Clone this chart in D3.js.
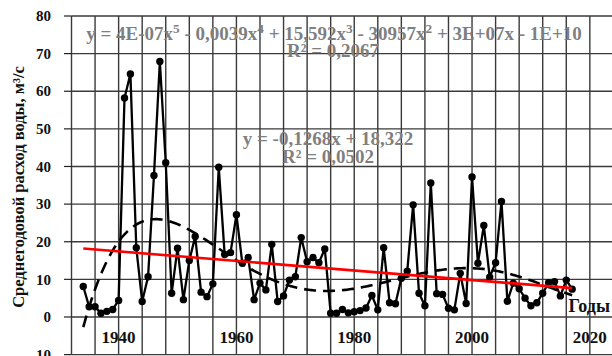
<!DOCTYPE html>
<html><head><meta charset="utf-8">
<script src="https://cdnjs.cloudflare.com/ajax/libs/d3/7.8.5/d3.min.js"></script>
<style>html,body{margin:0;padding:0;background:#fff;}svg{display:block;}</style>
</head><body>
<svg id="c" width="612" height="356"></svg>
<script>
const startYear = 1934;
const flow = [8.1,2.7,2.7,1.0,1.5,2.0,4.4,58.2,64.6,18.4,
  4.1,10.7,37.6,67.9,41.0,6.3,18.3,4.6,15.0,21.4,
  6.6,5.4,8.8,39.8,16.6,17.1,27.2,14.3,15.8,4.6,
  9.0,7.2,19.3,4.1,5.6,9.8,10.7,21.1,14.7,15.8,
  14.4,18.1,1.0,1.0,2.0,1.1,1.4,1.7,2.4,5.7,
  1.9,18.4,3.8,3.5,10.3,12.2,29.8,6.3,3.0,35.6,
  6.2,6.0,2.3,1.9,11.6,3.6,37.2,14.3,24.3,10.6,
  14.4,30.7,4.2,9.0,7.5,5.0,3.0,3.8,6.3,9.1,
  9.4,5.6,9.8,7.4];
const years = flow.map((v,i)=>startYear+i);
const xTicks = [1940,1960,1980,2000,2020];
const yTicks = [-10,0,10,20,30,40,50,60,70,80];
const linSlope = -0.1268, linIntercept = 18.322;
const polyLabel = "y = 4E-07x^5 - 0,0039x^4 + 15,592x^3 - 30957x^2 + 3E+07x - 1E+10";
const polyR2 = "R² = 0,2067";
const linLabel = "y = -0,1268x + 18,322";
const linR2 = "R² = 0,0502";
const yTitle = "Среднегодовой расход воды, м³/с";
const xTitle = "Годы";

const svg = d3.select("#c");
const x = d3.scaleLinear().domain([1932,2024]).range([71.5,613.4]);
const y = d3.scaleLinear().domain([-10,80]).range([354.6,16]);
const serif = "'Liberation Serif','Times New Roman',serif";

// grid
const g = svg.append("g");
g.selectAll("line.v").data(d3.range(1932,2025,4)).enter().append("line")
  .attr("x1",d=>x(d)).attr("x2",d=>x(d)).attr("y1",y(80)).attr("y2",y(-10))
  .attr("stroke","#3a3a3a").attr("stroke-width",1.4);
g.selectAll("line.h").data(yTicks).enter().append("line")
  .attr("x1",x(1932)).attr("x2",612).attr("y1",d=>y(d)).attr("y2",d=>y(d))
  .attr("stroke","#3a3a3a").attr("stroke-width",1.4);
// y ticks
g.selectAll("line.t").data(yTicks).enter().append("line")
  .attr("x1",64).attr("x2",x(1932)).attr("y1",d=>y(d)).attr("y2",d=>y(d))
  .attr("stroke","#222").attr("stroke-width",1.2);
svg.selectAll("text.yt").data(yTicks).enter().append("text")
  .attr("x",51).attr("y",d=>y(d)).attr("dy","0.35em").attr("text-anchor","end")
  .attr("font-family",serif).attr("font-weight","bold").attr("font-size",15)
  .attr("fill","#111").text(d=>d);
svg.selectAll("text.xt").data(xTicks).enter().append("text")
  .attr("x",d=>x(d)).attr("y",337).attr("dy","0.35em").attr("text-anchor","middle")
  .attr("font-family",serif).attr("font-weight","bold").attr("font-size",17)
  .attr("fill","#111").text(d=>d);

// polynomial trend (least squares, degree 5) from the data
function polyfit(xs, ys, deg){
  const n=deg+1, A=[...Array(n)].map(()=>Array(n+1).fill(0));
  xs.forEach((xv,k)=>{const p=[];for(let i=0;i<=2*deg;i++)p.push(Math.pow(xv,i));
    for(let r=0;r<n;r++){for(let c=0;c<n;c++)A[r][c]+=p[r+c];A[r][n]+=ys[k]*p[r];}});
  for(let i=0;i<n;i++){let m=i;for(let r=i+1;r<n;r++)if(Math.abs(A[r][i])>Math.abs(A[m][i]))m=r;
    [A[i],A[m]]=[A[m],A[i]];
    for(let r=0;r<n;r++){if(r===i)continue;const f=A[r][i]/A[i][i];for(let c=i;c<=n;c++)A[r][c]-=f*A[i][c];}}
  return A.map((row,i)=>row[n]/row[i]);
}
const mid=(years[0]+years[years.length-1])/2, half=(years[years.length-1]-years[0])/2;
const coef = polyfit(years.map(t=>(t-mid)/half), flow, 5);
const pv = t=>{const u=(t-mid)/half;return coef.reduce((s,c,i)=>s+c*Math.pow(u,i),0);};
const polyPts = d3.range(years[0], years[years.length-1]+0.01, 0.25).map(t=>[t,pv(t)]);
svg.append("path").datum(polyPts)
  .attr("d",d3.line().x(d=>x(d[0])).y(d=>y(d[1])))
  .attr("fill","none").attr("stroke","#000").attr("stroke-width",2.6)
  .attr("stroke-dasharray","12,7");

// data line
svg.append("path").datum(flow)
  .attr("d",d3.line().x((d,i)=>x(years[i])).y(d=>y(d)))
  .attr("fill","none").attr("stroke","#000").attr("stroke-width",2.3).attr("stroke-linejoin","round");
svg.selectAll("circle.p").data(flow).enter().append("circle")
  .attr("cx",(d,i)=>x(years[i])).attr("cy",d=>y(d)).attr("r",3.7).attr("fill","#000");

// linear trend
const lin = [years[0], years[years.length-1]].map(t=>[t, linSlope*(t-years[0]+1)+linIntercept]);
svg.append("path").datum(lin)
  .attr("d",d3.line().x(d=>x(d[0])).y(d=>y(d[1])))
  .attr("fill","none").attr("stroke","#ff0000").attr("stroke-width",2.6);

// labels
function eqText(str, xx, yy, size){
  const t = svg.append("text").attr("x",xx).attr("y",yy).attr("font-family",serif)
    .attr("font-weight","bold").attr("font-size",size).attr("fill","#7f7f7f").attr("text-anchor","middle");
  str.split(/(\^\d)/).forEach(part=>{
    if(part.startsWith("^")) t.append("tspan").attr("baseline-shift","super").attr("font-size",size*0.7).text(part.slice(1));
    else if(part) t.append("tspan").text(part);
  });
  return t;
}
eqText(polyLabel, 334, 40, 19);
eqText(polyR2, 333, 57, 19);
eqText(linLabel, 328, 145, 19);
eqText(linR2, 328, 163, 19);

svg.append("text").attr("x",610).attr("y",312).attr("text-anchor","end")
  .attr("font-family",serif).attr("font-weight","bold").attr("font-size",18).attr("fill","#111").text(xTitle);
svg.append("text").attr("transform","translate(24,187) rotate(-90)").attr("text-anchor","middle")
  .attr("font-family",serif).attr("font-weight","bold").attr("font-size",16.5).attr("fill","#111").text(yTitle);
</script>
</body></html>
